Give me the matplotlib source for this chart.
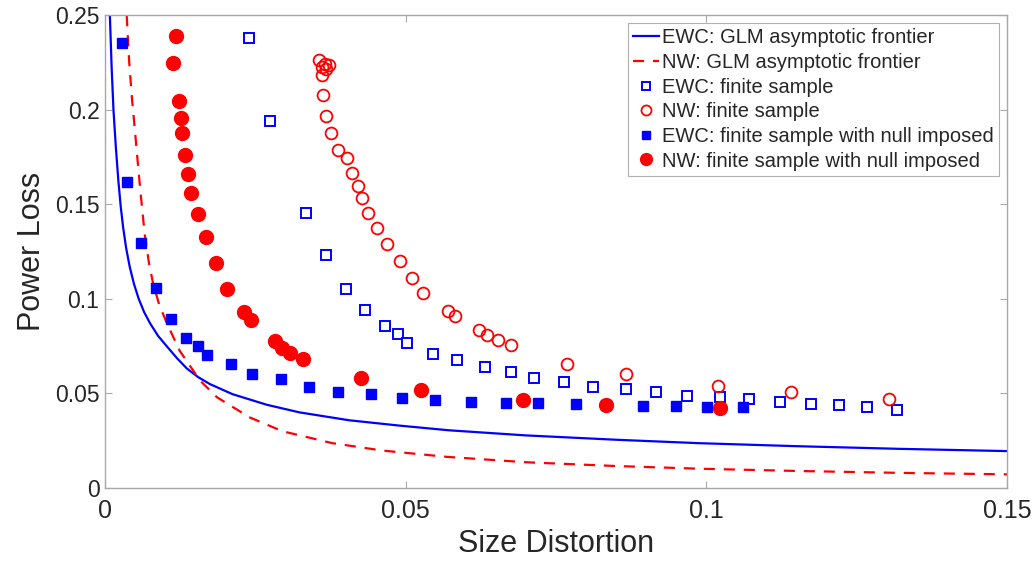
import matplotlib
matplotlib.use('Agg')
import matplotlib.pyplot as plt

plt.rcParams['font.family'] = ['Liberation Sans', 'DejaVu Sans']

# ---------------------------------------------------------------------------
# Frontier curves
# ---------------------------------------------------------------------------
ewc_front_x = [0.0008, 0.0011, 0.0014, 0.0018, 0.0022, 0.0026, 0.0030, 0.0035,
               0.0041, 0.0048, 0.0056, 0.0065, 0.0075, 0.0088, 0.0103, 0.0120,
               0.0136, 0.0155, 0.0174, 0.0212, 0.0269, 0.0323, 0.0406, 0.0489,
               0.0572, 0.0700, 0.0850, 0.0987, 0.1150, 0.1320, 0.1500]
ewc_front_y = [0.250, 0.222, 0.200, 0.180, 0.163, 0.149, 0.138, 0.127,
               0.117, 0.108, 0.100, 0.093, 0.087, 0.0805, 0.0748, 0.0685,
               0.0632, 0.0586, 0.0550, 0.0496, 0.0440, 0.0400, 0.0358, 0.0330,
               0.0305, 0.0278, 0.0255, 0.0237, 0.0221, 0.0207, 0.0195]

nw_front_x = [0.0036, 0.0040, 0.0045, 0.0050, 0.0055, 0.0060, 0.0066, 0.0073,
              0.0080, 0.0090, 0.0103, 0.0124, 0.0158, 0.0186, 0.0240, 0.0295,
              0.0378, 0.0461, 0.0567, 0.0700, 0.0850, 0.0987, 0.1150, 0.1320,
              0.1500]
nw_front_y = [0.250, 0.226, 0.205, 0.188, 0.170, 0.153, 0.134, 0.119,
              0.108, 0.097, 0.087, 0.0726, 0.0568, 0.0480, 0.0374, 0.0300,
              0.0237, 0.0198, 0.0165, 0.0136, 0.0116, 0.0102, 0.0090, 0.0080,
              0.0072]

# ---------------------------------------------------------------------------
# Finite sample points
# ---------------------------------------------------------------------------
ewc_fs_x = [0.0240, 0.0275, 0.0335, 0.0368, 0.0401, 0.0433, 0.0466, 0.0488,
            0.0502, 0.0546, 0.0585, 0.0632, 0.0675, 0.0713, 0.0763, 0.0811,
            0.0867, 0.0917, 0.0967, 0.1022, 0.1071, 0.1123, 0.1174, 0.1221,
            0.1267, 0.1317]
ewc_fs_y = [0.2379, 0.1942, 0.1453, 0.1232, 0.1053, 0.0942, 0.0858, 0.0816,
            0.0768, 0.0711, 0.0679, 0.0642, 0.0611, 0.0584, 0.0558, 0.0532,
            0.0521, 0.0505, 0.0484, 0.0479, 0.0468, 0.0453, 0.0442, 0.0437,
            0.0426, 0.0411]

nw_fs_x = [0.0356, 0.0365, 0.0372, 0.0360, 0.0368, 0.0361, 0.0363, 0.0368,
           0.0376, 0.0388, 0.0403, 0.0410, 0.0420, 0.0428, 0.0438, 0.0453,
           0.0469, 0.0490, 0.0511, 0.0529, 0.0570, 0.0582, 0.0622, 0.0635,
           0.0653, 0.0675, 0.0769, 0.0866, 0.1019, 0.1141, 0.1304]
nw_fs_y = [0.2263, 0.2242, 0.2237, 0.2226, 0.2216, 0.2184, 0.2079, 0.1968,
           0.1879, 0.1789, 0.1747, 0.1668, 0.1595, 0.1532, 0.1453, 0.1374,
           0.1289, 0.1200, 0.1111, 0.1032, 0.0937, 0.0911, 0.0837, 0.0811,
           0.0784, 0.0758, 0.0658, 0.0605, 0.0537, 0.0505, 0.0468]

ewc_null_x = [0.0028, 0.0036, 0.0060, 0.0085, 0.0110, 0.0135, 0.0154, 0.0169,
              0.0210, 0.0245, 0.0292, 0.0340, 0.0388, 0.0443, 0.0494, 0.0549,
              0.0609, 0.0667, 0.0720, 0.0783, 0.0833, 0.0894, 0.0949, 0.1001,
              0.1061]
ewc_null_y = [0.2353, 0.1616, 0.1295, 0.1058, 0.0895, 0.0795, 0.0753, 0.0705,
              0.0653, 0.0605, 0.0574, 0.0532, 0.0505, 0.0495, 0.0474, 0.0463,
              0.0453, 0.0447, 0.0447, 0.0442, 0.0437, 0.0432, 0.0432, 0.0426,
              0.0426]

nw_null_x = [0.0118, 0.0113, 0.0123, 0.0126, 0.0128, 0.0133, 0.0138, 0.0143,
             0.0154, 0.0168, 0.0184, 0.0202, 0.0231, 0.0242, 0.0282, 0.0294,
             0.0308, 0.0330, 0.0425, 0.0526, 0.0695, 0.0833, 0.1022]
nw_null_y = [0.2390, 0.2247, 0.2047, 0.1958, 0.1879, 0.1763, 0.1658, 0.1558,
             0.1447, 0.1326, 0.1189, 0.1053, 0.0932, 0.0889, 0.0779, 0.0742,
             0.0716, 0.0684, 0.0584, 0.0516, 0.0463, 0.0437, 0.0421]

text_col = '#262626'
blue = '#0000ff'
red = '#ff0000'

fig = plt.figure(figsize=(10.36, 5.64), dpi=100)
ax = fig.add_axes([0.1014, 0.1348, 0.8706, 0.8382])

ax.plot(ewc_front_x, ewc_front_y, color=blue, lw=1.6,
        label='EWC: GLM asymptotic frontier')
ax.plot(nw_front_x, nw_front_y, color=red, lw=1.6, dashes=(5, 4),
        label='NW: GLM asymptotic frontier')
ax.plot(ewc_fs_x, ewc_fs_y, ls='none', marker='s', ms=7, mfc='white',
        mec=blue, mew=1.4, label='EWC: finite sample')
ax.plot(nw_fs_x, nw_fs_y, ls='none', marker='o', ms=8.5, mfc='none',
        mec=red, mew=1.3, label='NW: finite sample')
ax.plot(ewc_null_x, ewc_null_y, ls='none', marker='s', ms=7.5, color=blue,
        label='EWC: finite sample with null imposed')
ax.plot(nw_null_x, nw_null_y, ls='none', marker='o', ms=10, color=red,
        label='NW: finite sample with null imposed')

ax.set_xlim(0, 0.15)
ax.set_ylim(0, 0.25)
ax.set_xticks([0, 0.05, 0.1, 0.15])
ax.set_xticklabels(['0', '0.05', '0.1', '0.15'])
ax.set_yticks([0, 0.05, 0.1, 0.15, 0.2, 0.25])
ax.set_yticklabels(['0', '0.05', '0.1', '0.15', '0.2', '0.25'])

for spine in ax.spines.values():
    spine.set_color('#a8a8a8')
    spine.set_linewidth(1.0)
ax.tick_params(direction='in', length=5, width=0.8, color='#a8a8a8',
               top=True, right=True, labelcolor=text_col)
ax.tick_params(axis='x', labelsize=18, pad=8)
ax.tick_params(axis='y', labelsize=16.5, pad=4)

ax.set_xlabel('Size Distortion', fontsize=22, color=text_col, labelpad=4)
ax.set_ylabel('Power Loss', fontsize=22, color=text_col, labelpad=6)

leg = ax.legend(loc='upper right', fontsize=14.5, frameon=True, fancybox=False,
                edgecolor='#b0b0b0', framealpha=1, labelspacing=0.28,
                handlelength=1.3, handletextpad=0.15, borderpad=0.25,
                borderaxespad=0.4, markerscale=0.85)
leg.get_frame().set_linewidth(0.8)
for t in leg.get_texts():
    t.set_color(text_col)

fig.savefig('out.png', dpi=100)
